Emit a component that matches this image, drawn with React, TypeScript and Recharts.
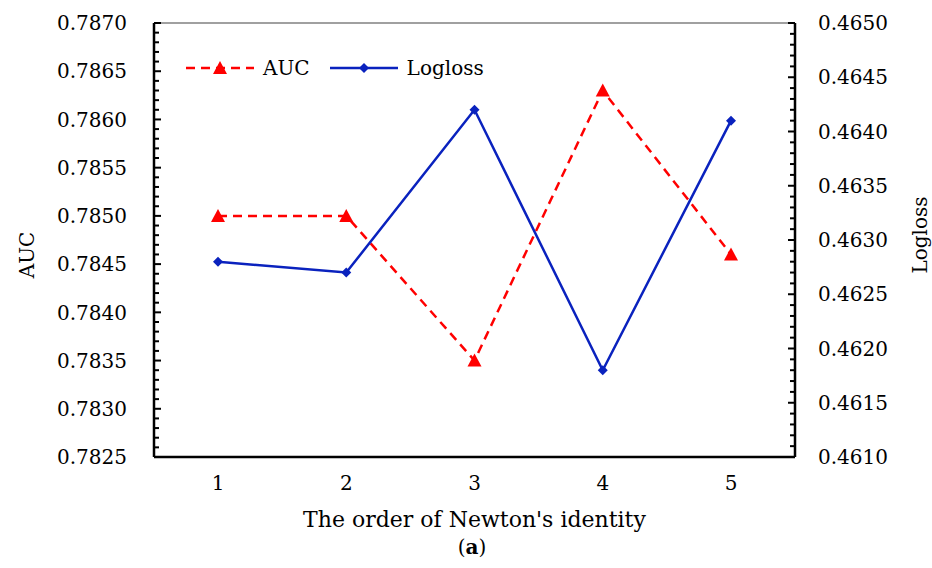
import React from 'react';
import { LineChart, Line, XAxis, YAxis, ReferenceLine } from 'recharts';

const orders = [1, 2, 3, 4, 5];
const aucValues = [0.785, 0.785, 0.7835, 0.7863, 0.7846];
const loglossValues = [0.4628, 0.4627, 0.4642, 0.4618, 0.4641];
const aucTicks = [0.7825, 0.783, 0.7835, 0.784, 0.7845, 0.785, 0.7855, 0.786, 0.7865, 0.787];
const loglossTicks = [0.461, 0.4615, 0.462, 0.4625, 0.463, 0.4635, 0.464, 0.4645, 0.465];

const data = orders.map((order, i) => ({
  order,
  auc: aucValues[i],
  logloss: loglossValues[i],
}));

// minor tick marks every 0.0001 between the first and last major tick
const minorTicks = (ticks: number[]) => {
  const lo = ticks[0];
  const hi = ticks[ticks.length - 1];
  const n = Math.round((hi - lo) / 0.0001);
  return Array.from({ length: n + 1 }, (_, i) => +(lo + i * 0.0001).toFixed(4));
};
const isMajor = (v: number) => Math.round(v * 10000) % 5 === 0;

const RED = '#FF0000';
const BLUE = '#0A22BE';
const FONT = '"DejaVu Serif", serif';
const LEFT_GAP = 27;
const RIGHT_GAP = 23;

const Triangle = (props: any) => {
  const { cx, cy, index } = props;
  if (cx == null || cy == null) return <g key={index} />;
  return (
    <polygon
      key={index}
      points={`${cx},${cy - 7} ${cx - 7},${cy + 6} ${cx + 7},${cy + 6}`}
      fill={RED}
    />
  );
};

const Diamond = (props: any) => {
  const { cx, cy, index } = props;
  if (cx == null || cy == null) return <g key={index} />;
  return (
    <polygon
      key={index}
      points={`${cx},${cy - 5} ${cx + 5},${cy} ${cx},${cy + 5} ${cx - 5},${cy}`}
      fill={BLUE}
    />
  );
};

// y-axis tick: label on the major values, a short inward mark on every value
const LeftTick = (props: any) => {
  const { x, y, payload } = props;
  const major = isMajor(payload.value);
  const ax = x + LEFT_GAP;
  return (
    <g>
      <line x1={ax} x2={ax + (major ? 7 : 5)} y1={y} y2={y} stroke="#000" strokeWidth={2} />
      {major && (
        <text x={x} y={y} dy="0.36em" textAnchor="end" fontSize={20} fontFamily={FONT} fill="#000">
          {payload.value.toFixed(4)}
        </text>
      )}
    </g>
  );
};

const RightTick = (props: any) => {
  const { x, y, payload } = props;
  const major = isMajor(payload.value);
  const ax = x - RIGHT_GAP;
  return (
    <g>
      <line x1={ax} x2={ax - (major ? 7 : 5)} y1={y} y2={y} stroke="#000" strokeWidth={2} />
      {major && (
        <text x={x} y={y} dy="0.36em" textAnchor="start" fontSize={20} fontFamily={FONT} fill="#000">
          {payload.value.toFixed(4)}
        </text>
      )}
    </g>
  );
};

export default function App() {
  return (
    <div style={{ position: 'absolute', left: 0, top: 0, width: 932, height: 568, background: '#fff' }}>
      <LineChart
        width={932}
        height={568}
        data={data}
        margin={{ top: 23, right: 37, left: 54, bottom: 31 }}
      >
        <XAxis
          dataKey="order"
          type="category"
          padding={{ left: 64, right: 64 }}
          height={80}
          tickLine={false}
          tickSize={0}
          tickMargin={19}
          axisLine={{ stroke: '#000', strokeWidth: 2.5 }}
          tick={{ fontSize: 20, fill: '#000', fontFamily: FONT }}
          label={{
            value: "The order of Newton's identity",
            position: 'insideBottom',
            offset: 10,
            style: { fontSize: 22, fill: '#000', fontFamily: FONT },
          }}
        />
        <YAxis
          yAxisId="auc"
          orientation="left"
          width={100}
          domain={[0.7825, 0.787]}
          ticks={minorTicks(aucTicks)}
          interval={0}
          tickLine={false}
          tickSize={0}
          tickMargin={LEFT_GAP}
          tick={LeftTick}
          axisLine={{ stroke: '#000', strokeWidth: 2.5 }}
          label={{
            value: 'AUC',
            content: () => (
              <text
                x={27}
                y={255}
                transform="rotate(-90, 27, 255)"
                textAnchor="middle"
                dominantBaseline="central"
                style={{ fontSize: 20, fill: '#000', fontFamily: FONT }}
              >
                AUC
              </text>
            ),
          }}
        />
        <YAxis
          yAxisId="log"
          orientation="right"
          width={100}
          domain={[0.461, 0.465]}
          ticks={minorTicks(loglossTicks)}
          interval={0}
          tickLine={false}
          tickSize={0}
          tickMargin={RIGHT_GAP}
          tick={RightTick}
          axisLine={{ stroke: '#000', strokeWidth: 2.5 }}
          label={{
            value: 'Logloss',
            content: () => (
              <text
                x={920}
                y={235}
                transform="rotate(-90, 920, 235)"
                textAnchor="middle"
                dominantBaseline="central"
                style={{ fontSize: 20, fill: '#000', fontFamily: FONT }}
              >
                Logloss
              </text>
            ),
          }}
        />
        {/* thin frame line along the top of the plot */}
        <ReferenceLine yAxisId="auc" y={0.787} stroke="#808080" strokeWidth={1.5} ifOverflow="visible" />
        <Line
          yAxisId="auc"
          dataKey="auc"
          type="linear"
          stroke={RED}
          strokeWidth={2.5}
          strokeDasharray="9 6"
          dot={Triangle}
          activeDot={false}
          isAnimationActive={false}
        />
        <Line
          yAxisId="log"
          dataKey="logloss"
          type="linear"
          stroke={BLUE}
          strokeWidth={2.5}
          dot={Diamond}
          activeDot={false}
          isAnimationActive={false}
        />
      </LineChart>

      {/* legend, drawn inside the plot area like the original */}
      <div
        style={{
          position: 'absolute',
          left: 186,
          top: 53,
          display: 'flex',
          alignItems: 'center',
          fontFamily: FONT,
          fontSize: 20,
          color: '#000',
        }}
      >
        <svg width={68} height={30}>
          <line x1={0} y1={15} x2={68} y2={15} stroke={RED} strokeWidth={2.5} strokeDasharray="9 6" />
          <polygon points="34,8 27,21 41,21" fill={RED} />
        </svg>
        <span style={{ marginLeft: 9, marginRight: 20 }}>AUC</span>
        <svg width={68} height={30}>
          <line x1={0} y1={15} x2={68} y2={15} stroke={BLUE} strokeWidth={2.5} />
          <polygon points="34,10 39,15 34,20 29,15" fill={BLUE} />
        </svg>
        <span style={{ marginLeft: 9 }}>Logloss</span>
      </div>

      <div
        style={{
          position: 'absolute',
          left: 0,
          width: 944,
          top: 535,
          textAlign: 'center',
          fontFamily: FONT,
          fontSize: 20,
          color: '#000',
        }}
      >
        (<b>a</b>)
      </div>
    </div>
  );
}
